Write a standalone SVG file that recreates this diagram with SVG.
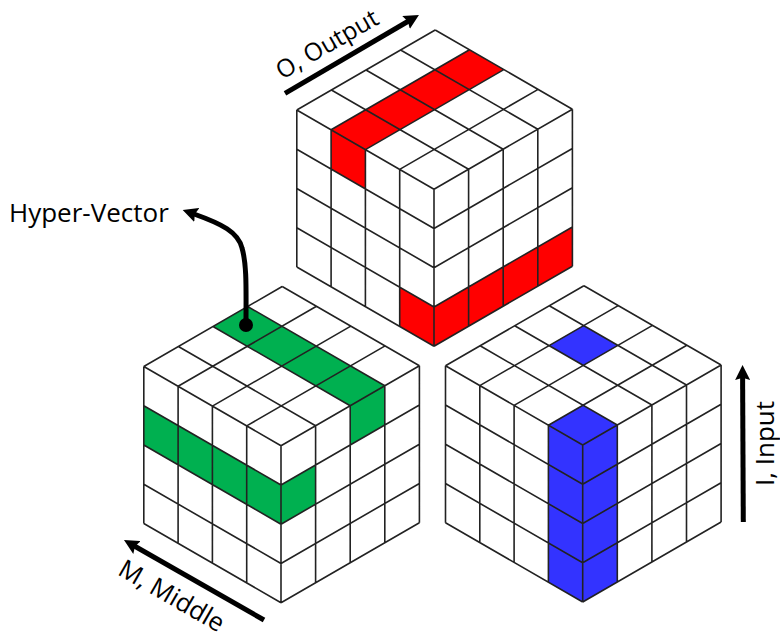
<svg xmlns="http://www.w3.org/2000/svg" xmlns:xlink="http://www.w3.org/1999/xlink" width="780" height="642" viewBox="0 0 780 642">
<style>
.grid{fill:none;stroke:#222;stroke-width:1.6;stroke-linejoin:round}
.lbl{font-family:"Open Sans","Noto Sans",sans-serif;font-size:26px;fill:#000}
.arr{fill:none;stroke:#000;stroke-width:5}
.red{fill:#f00}.green{fill:#00b050}.blue{fill:#33f}
</style>
<defs>
<path id="cubegrid" class="grid" d="M0,0L138.4,-80M-34.3,-19.8L104.1,-99.8M-68.6,-39.6L69.8,-119.6M-102.9,-59.4L35.5,-139.4M-137.2,-79.2L1.2,-159.2M0,0L-137.2,-79.2M34.6,-20L-102.6,-99.2M69.2,-40L-68,-119.2M103.8,-60L-33.4,-139.2M138.4,-80L1.2,-159.2M0,0V157M-34.3,-19.8V137.2M-68.6,-39.6V117.4M-102.9,-59.4V97.6M-137.2,-79.2V77.8M34.6,-20V137M69.2,-40V117M103.8,-60V97M138.4,-80V77M0,39.25L-137.2,-39.95M0,78.5L-137.2,-0.7M0,117.75L-137.2,38.55M0,157L-137.2,77.8M0,39.25L138.4,-40.75M0,78.5L138.4,-1.5M0,117.75L138.4,37.75M0,157L138.4,77"/>
<marker id="head" viewBox="0 0 10 10" refX="2" refY="5" markerWidth="3" markerHeight="3" orient="auto" markerUnits="strokeWidth"><path d="M0,0L10,5L0,10L1.5,5Z" fill="#000"/></marker>
</defs>
<g id="cube-output" transform="translate(434,189.2)">
<path class="red" d="M-102.9,-59.4L35.5,-139.4L69.8,-119.6L-68.6,-39.6V-0.35L-102.9,-20.15ZM0,117.75L138.4,37.75V77L0,157L-34.3,137.2V97.95Z"/>
<use href="#cubegrid"/>
</g>
<g id="cube-middle" transform="translate(281,445.7)">
<path class="green" d="M-68,-119.2L-33.4,-139.2L103.8,-60V-20.75L69.2,-0.75V-40ZM0,39.25L34.6,19.25V58.5L0,78.5L-137.2,-0.7V-39.95Z"/>
<use href="#cubegrid"/>
</g>
<g id="cube-input" transform="translate(582.7,445)">
<path class="blue" d="M0.6,-79.6L-33.7,-99.4L0.9,-119.4L35.2,-99.6ZM0,0L-34.3,-19.8L0.3,-39.8L34.6,-20V137L0,157L-34.3,137.2V-19.8Z"/>
<use href="#cubegrid"/>
</g>
<g id="connectors">
<path class="arr" d="M285,93.3L408.6,21" marker-end="url(#head)"/>
<path class="arr" d="M264,620L134.4,546" marker-end="url(#head)"/>
<path class="arr" d="M743.3,522L742.6,377" marker-end="url(#head)"/>
<path class="arr" d="M246,324C246,290 247,265 242,248C238,232 222,224 194,214" marker-end="url(#head)"/>
<circle cx="246" cy="325" r="7" fill="#000"/>
</g>
<g id="label-hyper"><text class="lbl" x="9" y="222">Hyper-Vector</text></g>
<g id="label-output"><text class="lbl" style="font-size:24.6px" transform="translate(282,80) rotate(-30)">O, Output</text></g>
<g id="label-middle"><text class="lbl" style="font-size:25.5px" transform="translate(116.5,574) rotate(30)">M, Middle</text></g>
<g id="label-input"><text class="lbl" transform="translate(773.5,486) rotate(-90)">I, Input</text></g>
</svg>
